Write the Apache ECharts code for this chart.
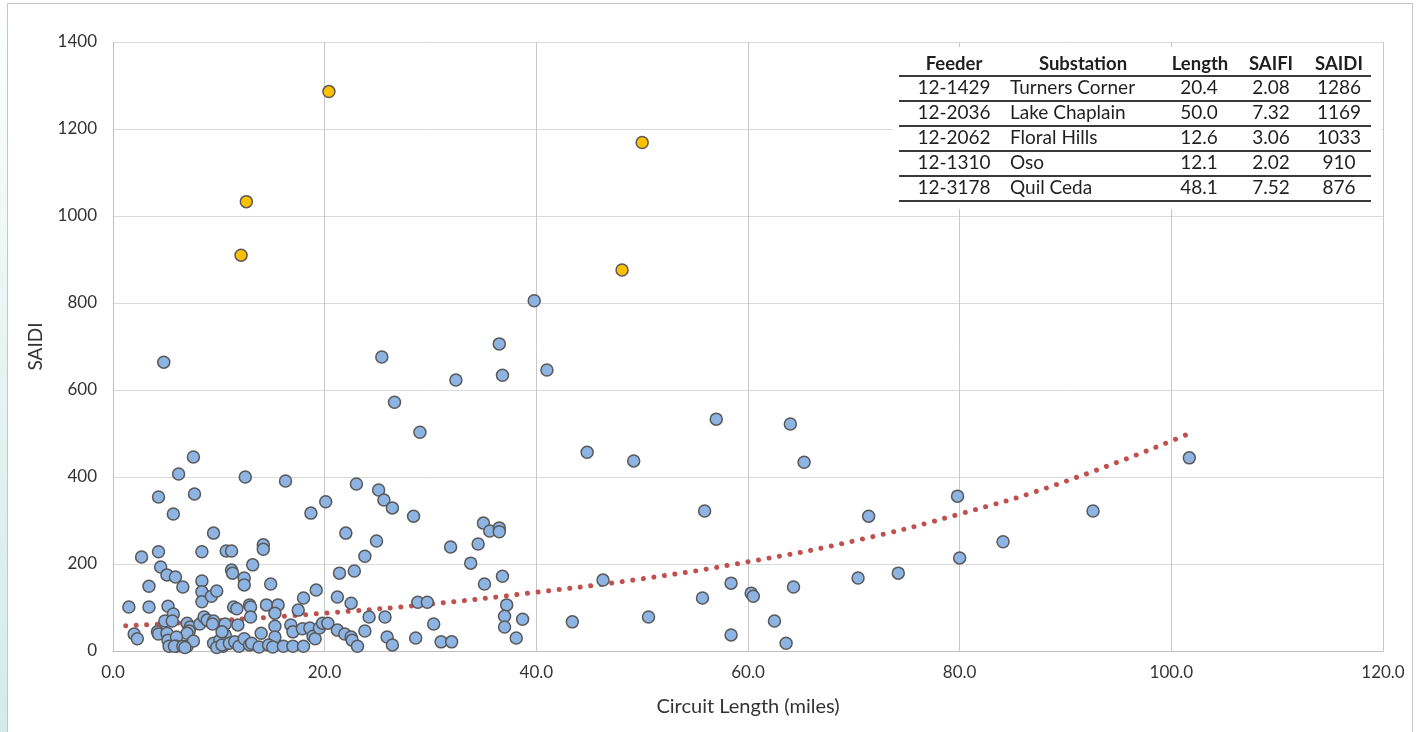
<!DOCTYPE html>
<html>
<head>
<meta charset="utf-8">
<script src="https://cdn.jsdelivr.net/npm/echarts@6/dist/echarts.min.js"></script>
<style>
html,body{margin:0;padding:0;background:#fff;}
#strip{position:absolute;left:0;top:0;width:7px;height:732px;background:linear-gradient(to bottom,#ffffff 0%,#eaf6f3 40%,#d3ece6 100%);}
#frame{position:absolute;left:7px;top:3px;width:1406px;height:740px;border:1px solid #c6c6c6;box-sizing:border-box;}
#chart{position:absolute;left:0;top:0;width:1417px;height:732px;}
</style>
</head>
<body>
<div id="strip"></div>
<div id="frame"></div>
<div id="chart"></div>
<script>
// ---- Data ----
const xTicks = [0, 20, 40, 60, 80, 100, 120];
const yTicks = [0, 200, 400, 600, 800, 1000, 1200, 1400];

// Feeders: [circuit length (miles), SAIDI]
const feederPoints = [
  [7.6,446],[6.2,407],[12.5,400],[16.3,391],[4.3,354],[7.7,361],[5.7,315],[18.7,317],[4.8,664],
  [9.5,271],[4.3,228],[2.7,216],[8.4,228],[10.7,230],[11.2,230],[14.2,244],[14.2,234],[4.5,193],
  [5.1,175],[5.9,170],[6.6,147],[3.4,149],[11.2,186],[11.3,179],[13.2,198],[12.4,168],[12.4,152],
  [8.4,161],[8.4,136],[8.4,113],[9.3,126],[9.8,138],[14.9,154],[1.5,101],[3.4,101],[5.2,103],
  [5.7,85],[4.9,69],[5.6,69],[4.2,44],[4.3,39],[2.0,39],[2.3,28],[7.0,64],[7.3,55],[7.2,46],
  [7.0,41],[8.2,62],[8.6,78],[8.9,71],[9.5,69],[9.4,62],[10.6,62],[10.6,37],[5.1,41],[5.2,25],
  [5.3,11],[6.0,32],[6.0,11],[5.8,11],[6.6,11],[7.0,11],[7.6,23],[6.8,8],[9.5,18],[10.1,25],
  [10.4,11],[9.8,8],[11.4,101],[11.7,97],[12.9,106],[13.0,101],[14.5,106],[15.6,106],[15.3,87],
  [17.5,94],[13.0,78],[11.8,60],[14.0,41],[15.3,57],[15.3,32],[16.8,60],[17.0,44],[17.9,51],
  [18.6,53],[18.9,34],[19.1,28],[19.5,53],[19.8,64],[20.3,64],[21.2,48],[10.3,14],[11.0,18],
  [11.5,21],[11.9,11],[12.4,28],[12.9,14],[13.1,18],[13.8,9],[14.7,14],[15.1,9],[16.1,11],
  [17.0,11],[18.0,11],[18.0,122],[19.2,140],[23.0,384],[25.1,370],[25.6,347],[26.4,329],
  [20.1,343],[22.0,271],[24.9,253],[23.8,218],[21.4,179],[22.8,184],[21.2,124],[22.5,110],
  [24.2,78],[25.7,78],[21.9,39],[22.5,32],[22.6,25],[23.1,11],[23.8,46],[25.9,32],[26.4,14],
  [39.8,805],[36.5,706],[36.8,634],[32.4,623],[25.4,676],[26.6,572],[29.0,503],[28.4,310],
  [31.9,239],[34.5,246],[33.8,202],[35.0,294],[35.6,276],[36.5,283],[36.5,274],[35.1,154],
  [36.8,172],[37.2,106],[37.0,80],[37.0,55],[38.7,73],[38.1,30],[30.3,62],[28.8,112],[29.7,112],
  [28.6,30],[31.0,21],[32.0,21],[41.0,646],[57.0,533],[44.8,457],[49.2,437],[55.9,322],
  [46.3,163],[55.7,122],[50.6,78],[43.4,67],[58.4,156],[58.4,37],[64.0,522],[65.3,434],
  [71.4,310],[79.8,356],[92.6,322],[84.1,251],[80.0,214],[70.4,168],[74.2,179],[64.3,147],
  [60.3,133],[60.5,126],[62.5,69],[63.6,18],[101.7,444],[10.3,44]
];

// Top-5 table
const tableHeaders = ['Feeder', 'Substation', 'Length', 'SAIFI', 'SAIDI'];
const feederIds   = ['12-1429', '12-2036', '12-2062', '12-1310', '12-3178'];
const substations = ['Turners Corner', 'Lake Chaplain', 'Floral Hills', 'Oso', 'Quil Ceda'];
const lengths     = [20.4, 50.0, 12.6, 12.1, 48.1];
const saifi       = [2.08, 7.32, 3.06, 2.02, 7.52];
const saidi       = [1286, 1169, 1033, 910, 876];

// Trend line
const trendX = [1.2, 10, 20, 30, 40, 50, 60, 70, 80, 90, 101.7];
const trendY = [58, 70, 87, 108, 135, 166, 205, 253, 315, 390, 500];

// ---- Build ----
const topPoints = lengths.map((l, i) => [l, saidi[i]]);
const trendData = trendX.map((x, i) => [x, trendY[i]]);

const FONT = 'Lato, "Open Sans", sans-serif';
const TXT = '#1f1f1f';

// Table graphics (layout only)
const colX = [954, 1010, 1199, 1271, 1339];
const colAlign = ['center', 'left', 'center', 'center', 'center'];
const headerX = [954, 1083, 1200, 1271, 1339];
const headerY = 64;
const rowY0 = 88, rowH = 25;
const graphics = [];
graphics.push({type:'rect', z:100, shape:{x:893, y:47, width:488, height:162}, style:{fill:'#ffffff'}});
tableHeaders.forEach((h, c) => {
  graphics.push({type:'text', z:101, x:headerX[c], y:headerY,
    style:{text:h, font:'bold 18.5px ' + FONT, fill:TXT, align:'center', verticalAlign:'middle'}});
});
const rows = feederIds.map((f, i) => [f, substations[i], lengths[i].toFixed(1), saifi[i].toFixed(2), String(saidi[i])]);
rows.forEach((r, i) => {
  r.forEach((t, c) => {
    graphics.push({type:'text', z:101, x:colX[c], y:rowY0 + i*rowH,
      style:{text:t, font:'19px ' + FONT, fill:TXT, align:colAlign[c], verticalAlign:'middle'}});
  });
});
for (let i = 0; i <= rows.length; i++) {
  const y = 76 + i*rowH;
  graphics.push({type:'line', z:101, shape:{x1:899, y1:y, x2:1371, y2:y}, style:{stroke:'#3a3a3a', lineWidth:2}});
}

const chart = echarts.init(document.getElementById('chart'), null, {renderer:'canvas'});
chart.setOption({
  backgroundColor: 'transparent',
  animation: false,
  grid: {left:113, right:34, top:42, bottom:81, containLabel:false},
  xAxis: {
    type:'value', min:xTicks[0], max:xTicks[xTicks.length-1], interval:20,
    name:'Circuit Length (miles)', nameLocation:'middle', nameGap:46,
    nameTextStyle:{fontFamily:FONT, fontSize:20, color:'#333333'},
    axisLine:{show:true, lineStyle:{color:'#bfbfbf', width:1}},
    axisTick:{show:false},
    axisLabel:{fontFamily:FONT, fontSize:17, color:'#333333', margin:13, formatter:v => v.toFixed(1)},
    splitLine:{show:true, lineStyle:{color:'#c8c8c8', width:1}}
  },
  yAxis: {
    type:'value', min:yTicks[0], max:yTicks[yTicks.length-1], interval:200,
    name:'SAIDI', nameLocation:'middle', nameGap:68, nameRotate:90,
    nameTextStyle:{fontFamily:FONT, fontSize:19, color:'#333333'},
    axisLine:{show:true, lineStyle:{color:'#bfbfbf', width:1}},
    axisTick:{show:false},
    axisLabel:{fontFamily:FONT, fontSize:17, color:'#333333', margin:16, formatter:v => String(v)},
    splitLine:{show:true, lineStyle:{color:'#dadada', width:1}}
  },
  series: [
    {
      type:'line', data:trendData, smooth:true, symbol:'none', z:3,
      lineStyle:{color:'#C0504D', width:5, type:[0.01, 10.6], cap:'round'}
    },
    {
      type:'scatter', data:feederPoints, symbol:'circle', symbolSize:12, z:4,
      itemStyle:{color:'#8EB4E3', borderColor:'#595959', borderWidth:1.5, opacity:1}
    },
    {
      type:'scatter', data:topPoints, symbol:'circle', symbolSize:12, z:5,
      itemStyle:{color:'#FFC000', borderColor:'#595959', borderWidth:1.5, opacity:1}
    }
  ],
  graphic: graphics
});
</script>
</body>
</html>
